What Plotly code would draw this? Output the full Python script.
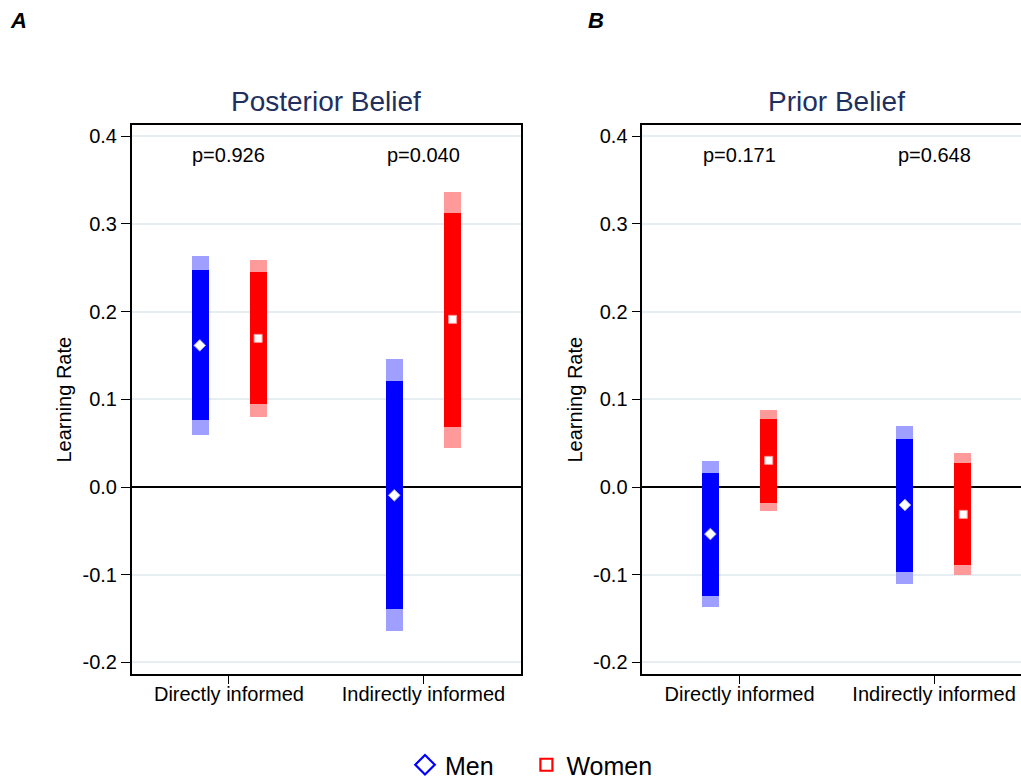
import plotly.graph_objects as go

categories = ["Directly informed", "Indirectly informed"]
groups = ["Men", "Women"]
panel_titles = ["Posterior Belief", "Prior Belief"]
panel_letters = ["A", "B"]

# Panel A: Posterior Belief  (order: Directly, Indirectly)
post_men_est = [0.1615, -0.0095]
post_men_lo90 = [0.0760, -0.1395]
post_men_hi90 = [0.2474, 0.1205]
post_men_lo95 = [0.0593, -0.1646]
post_men_hi95 = [0.2637, 0.1456]

post_women_est = [0.1695, 0.1912]
post_women_lo90 = [0.0943, 0.0684]
post_women_hi90 = [0.2448, 0.3124]
post_women_lo95 = [0.0798, 0.0448]
post_women_hi95 = [0.2592, 0.3367]

# Panel B: Prior Belief
prior_men_est = [-0.0536, -0.0205]
prior_men_lo90 = [-0.1239, -0.0969]
prior_men_hi90 = [0.0160, 0.0551]
prior_men_lo95 = [-0.1372, -0.1110]
prior_men_hi95 = [0.0296, 0.0696]

prior_women_est = [0.0304, -0.0312]
prior_women_lo90 = [-0.0182, -0.0893]
prior_women_hi90 = [0.0779, 0.0270]
prior_women_lo95 = [-0.0270, -0.1007]
prior_women_hi95 = [0.0874, 0.0384]

post_pvalues = ["p=0.926", "p=0.040"]
prior_pvalues = ["p=0.171", "p=0.648"]

y_tickvals = [-0.2, -0.1, 0.0, 0.1, 0.2, 0.3, 0.4]
y_ticktext = ["-0.2", "-0.1", "0.0", "0.1", "0.2", "0.3", "0.4"]
y_title = "Learning Rate"

FONT = "Liberation Sans, Arial, sans-serif"
W, H = 1021, 780
cat_pos = [1, 2]
offset = 0.15
bar_w = 0.088

dark = {"Men": "#0000ff", "Women": "#ff0000"}
light = {"Men": "#9f9fff", "Women": "#ff9a9a"}
symbols = {"Men": "diamond", "Women": "square"}
msize = {"Men": 9, "Women": 8}
legend_pad = {"Men": "\u00a0\u00a0\u00a0\u00a0", "Women": ""}

panels = [
    {
        "Men": (post_men_est, post_men_lo90, post_men_hi90, post_men_lo95, post_men_hi95),
        "Women": (post_women_est, post_women_lo90, post_women_hi90, post_women_lo95, post_women_hi95),
        "p": post_pvalues,
    },
    {
        "Men": (prior_men_est, prior_men_lo90, prior_men_hi90, prior_men_lo95, prior_men_hi95),
        "Women": (prior_women_est, prior_women_lo90, prior_women_hi90, prior_women_lo95, prior_women_hi95),
        "p": prior_pvalues,
    },
]

fig = go.Figure()

y_top_px, y_bot_px = 125, 674
ydom = [1 - y_bot_px / H, 1 - y_top_px / H]
xdoms = [[131.7 / W, 520.7 / W], [642.3 / W, 1.0]]
xranges = [[0.5, 2.5], [0.5, 2.447]]
yrange = [-0.2132, 0.4128]

for i, pdata in enumerate(panels):
    xa = "x" if i == 0 else "x2"
    ya = "y" if i == 0 else "y2"
    for g, sign in zip(groups, [-1, 1]):
        est, lo90, hi90, lo95, hi95 = pdata[g]
        xs = [c + sign * offset for c in cat_pos]
        fig.add_trace(go.Bar(
            x=xs, y=[h - l for h, l in zip(hi95, lo95)], base=lo95,
            width=bar_w, marker=dict(color=light[g], line=dict(width=0)),
            xaxis=xa, yaxis=ya, showlegend=False, hoverinfo="skip"))
        fig.add_trace(go.Bar(
            x=xs, y=[h - l for h, l in zip(hi90, lo90)], base=lo90,
            width=bar_w, marker=dict(color=dark[g], line=dict(width=0)),
            xaxis=xa, yaxis=ya, showlegend=False, hoverinfo="skip"))
        fig.add_trace(go.Scatter(
            x=xs, y=est, mode="markers",
            marker=dict(symbol=symbols[g], size=msize[g], color="white",
                        line=dict(color=light[g], width=1)),
            xaxis=xa, yaxis=ya, showlegend=False, hoverinfo="skip"))
    for c, ptxt in zip(cat_pos, pdata["p"]):
        fig.add_annotation(x=c, y=0.379, xref=xa, yref=ya, text=ptxt,
                           showarrow=False, font=dict(size=20, color="black", family=FONT))

# legend-only traces
for g in groups:
    fig.add_trace(go.Scatter(
        x=[None], y=[None], mode="markers", name=g + legend_pad[g],
        marker=dict(symbol=symbols[g] + "-open", size=15 if g == "Men" else 12,
                    color=dark[g], line=dict(color=dark[g], width=2.2)),
        xaxis="x", yaxis="y", showlegend=True))

axis_common_x = dict(
    tickvals=cat_pos, ticktext=categories, ticks="outside", ticklen=8,
    tickcolor="black", tickwidth=1.2, showline=True, linecolor="black", linewidth=1.5,
    mirror=True, showgrid=False, zeroline=False, ticklabelstandoff=-7,
    tickfont=dict(size=20, color="black", family=FONT),
)
axis_common_y = dict(
    range=yrange, tickvals=y_tickvals, ticktext=y_ticktext, ticks="outside", ticklen=9,
    tickcolor="black", tickwidth=1.2, showline=True, linecolor="black", linewidth=1.5,
    showgrid=True, gridcolor="#e6eef1", gridwidth=1.5,
    zeroline=True, zerolinecolor="black", zerolinewidth=1.5,
    tickfont=dict(size=20, color="black", family=FONT),
)

fig.update_layout(
    width=W, height=H,
    margin=dict(l=0, r=0, t=0, b=0, autoexpand=False),
    paper_bgcolor="white", plot_bgcolor="white",
    barmode="overlay", bargap=0,
    font=dict(family=FONT, color="black"),
    xaxis=dict(domain=xdoms[0], range=xranges[0], anchor="y", **axis_common_x),
    yaxis=dict(domain=ydom, anchor="x", mirror=True, **axis_common_y),
    xaxis2=dict(domain=xdoms[1], range=xranges[1], anchor="y2", **axis_common_x),
    yaxis2=dict(domain=ydom, anchor="x2", mirror=False, **axis_common_y),
    legend=dict(orientation="h", x=405 / W, xanchor="left", y=1 - 765 / H, yanchor="middle",
                font=dict(size=25, color="black", family=FONT),
                itemwidth=30, tracegroupgap=0, bgcolor="rgba(0,0,0,0)"),
    showlegend=True,
)

# panel titles
for i, t in enumerate(panel_titles):
    cx = (xdoms[0][0] + xdoms[0][1]) / 2 if i == 0 else (642.3 + 194.5) / W
    fig.add_annotation(x=cx, y=1 - 102 / H, xref="paper", yref="paper", text=t,
                       showarrow=False, xanchor="center", yanchor="middle",
                       font=dict(size=28, color="#1f2f5e", family=FONT))

# y-axis titles
for px in [64, 575]:
    fig.add_annotation(x=px / W, y=(ydom[0] + ydom[1]) / 2, xref="paper", yref="paper",
                       text=y_title, textangle=-90, showarrow=False,
                       xanchor="center", yanchor="middle",
                       font=dict(size=20, color="black", family=FONT))

# panel letters
for px, letter in zip([18, 596], panel_letters):
    fig.add_annotation(x=px / W, y=1 - 20 / H, xref="paper", yref="paper",
                       text="<b><i>" + letter + "</i></b>", showarrow=False,
                       xanchor="center", yanchor="middle",
                       font=dict(size=22, color="black", family=FONT))

fig.write_html("out.html")
